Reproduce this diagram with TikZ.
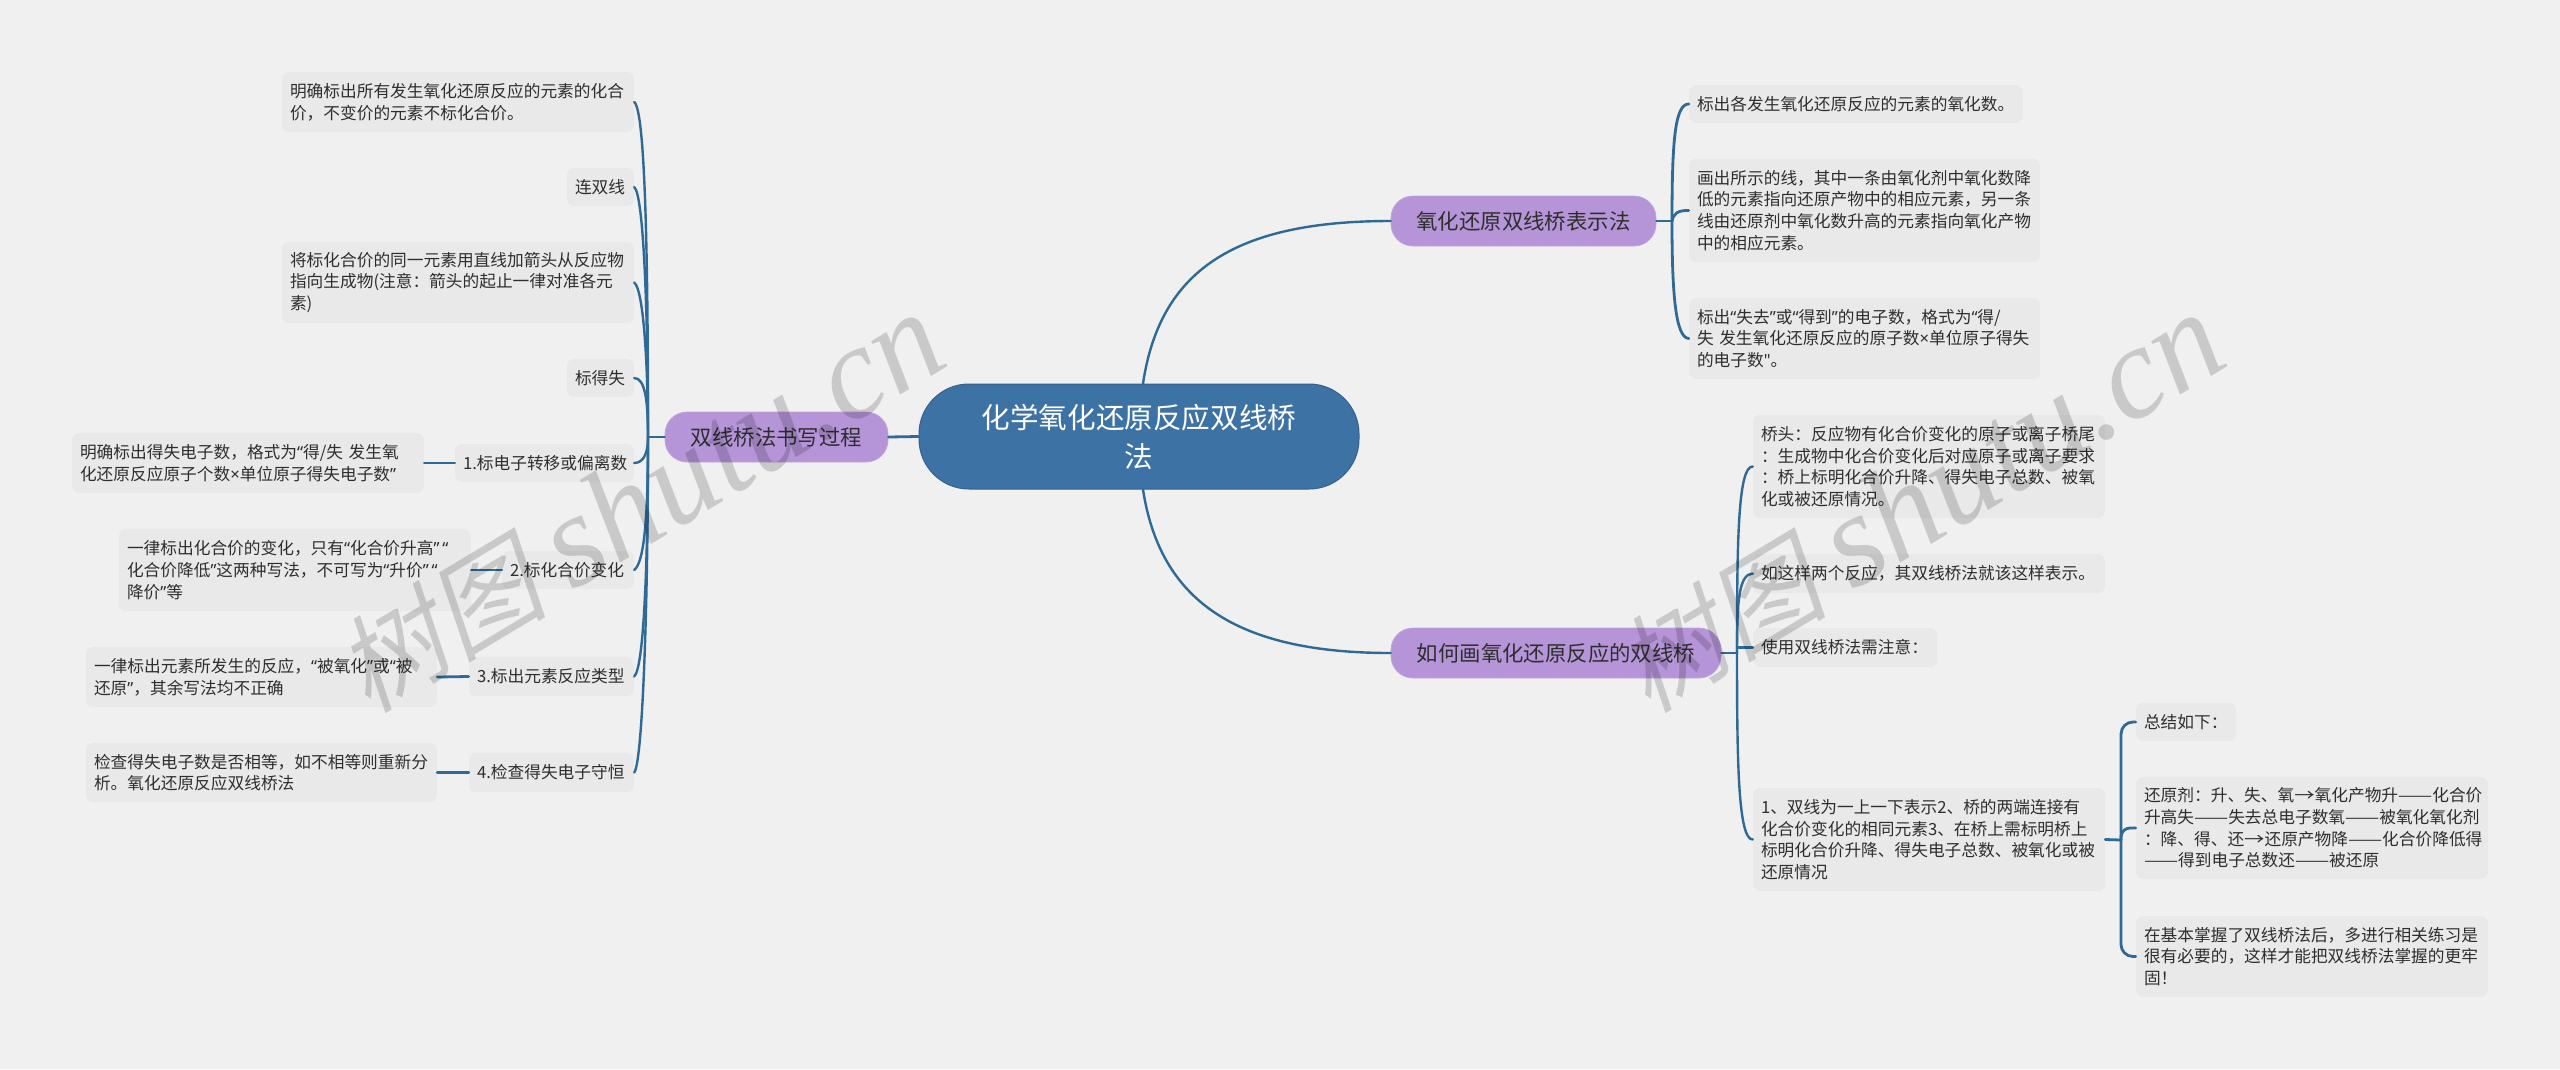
\documentclass[tikz,border=0pt]{standalone}
\usepackage{fontspec}
\setmainfont{Noto Sans CJK SC}
\newfontfamily\qf{Noto Sans}
\newfontfamily\dashf{Noto Sans CJK SC}[FakeStretch=1.22]
\newfontfamily\wmlat{Liberation Serif}
\newfontfamily\wmcjk{Noto Sans CJK SC}[FakeSlant=0.22]
\newcommand{\ql}{{\qf“}}
\newcommand{\qr}{{\qf”}}
\newcommand{\tms}{{\qf ×}}
\newcommand{\dsh}{{\dashf ——}}
\newcommand{\arw}{{\dashf →}}
\definecolor{bgc}{HTML}{F0F0F0}
\definecolor{leafc}{HTML}{E9E9E9}
\definecolor{linkc}{HTML}{2F6A96}
\definecolor{rootc}{HTML}{3D72A5}
\definecolor{purc}{HTML}{B694D8}
\definecolor{txtc}{HTML}{2E2E2E}
\tikzset{
  leaf/.style={fill=leafc,rounded corners=7,inner xsep=8,inner ysep=0,align=left,text=txtc,
    font=\fontsize{16.7}{21.7}\selectfont},
  branchbox/.style={fill=purc,draw=purc!85!white,line width=.8,rounded corners=22,inner sep=0,align=center,text=txtc,
    font=\fontsize{21.4}{30}\selectfont},
  rootbox/.style={fill=rootc,draw=rootc!85!black,line width=1,rounded corners=50,inner sep=0,align=center,text=white,
    font=\fontsize{28.6}{39}\selectfont},
  link/.style={draw=linkc,line width=2.4,line cap=round},
  thick link/.style={draw=linkc,line width=2.8,line cap=round},
  wm/.style={text=black,text opacity=.16,rotate=31,anchor=base,inner sep=0},
}
\newcommand{\leafbox}[6]{%
  \pgfmathsetmacro{\cxx}{(#2+#4)/2}\pgfmathsetmacro{\cyy}{(#3+#5)/2}%
  \pgfmathsetmacro{\ww}{#4-#2-16}\pgfmathsetmacro{\hh}{#5-#3}%
  \node[leaf,text width=\ww pt,minimum height=\hh pt] (#1) at (\cxx,\cyy) {#6};}
\newcommand{\solidbox}[7]{%
  \pgfmathsetmacro{\cxx}{(#3+#5)/2}\pgfmathsetmacro{\cyy}{(#4+#6)/2}%
  \pgfmathsetmacro{\ww}{#5-#3}\pgfmathsetmacro{\hh}{#6-#4}%
  \node[#2,minimum width=\ww pt,minimum height=\hh pt] (#1) at (\cxx,\cyy) {#7};}
\newcommand{\wmtext}{{\wmcjk\fontsize{106}{120}\selectfont 树图}\hspace{26pt}{\wmlat\itshape\fontsize{132}{134}\selectfont shutu.cn}}
\begin{document}
\begin{tikzpicture}[x=1pt,y=-1pt]
\useasboundingbox (0,0) rectangle (2560,1069);
\fill[bgc] (0,0) rectangle (2560,1069);
% root and branches
\solidbox{root}{rootbox}{919}{384}{1359}{489}{化学氧化还原反应双线桥\\法}
\solidbox{bl}{branchbox}{665}{412}{888}{462}{双线桥法书写过程}
\solidbox{bt}{branchbox}{1391}{196}{1656}{246}{氧化还原双线桥表示法}
\solidbox{bb}{branchbox}{1391}{628}{1721}{678}{如何画氧化还原反应的双线桥}
% left leaves
\leafbox{a1}{282}{72}{634}{132}{明确标出所有发生氧化还原反应的元素的化合\\价，不变价的元素不标化合价。}
\leafbox{a2}{567}{168}{634}{206}{连双线}
\leafbox{a3}{282}{242}{634}{323}{将标化合价的同一元素用直线加箭头从反应物\\指向生成物(注意：箭头的起止一律对准各元\\素)}
\leafbox{a4}{567}{359}{634}{397}{标得失}
\leafbox{a5}{455}{444}{634}{482}{1.标电子转移或偏离数}
\leafbox{a6}{502}{551}{634}{589}{2.标化合价变化}
\leafbox{a7}{469}{657}{634}{696}{3.标出元素反应类型}
\leafbox{a8}{469}{753}{634}{792}{4.检查得失电子守恒}
\leafbox{e5}{72}{433}{424}{493}{明确标出得失电子数，格式为\ql 得/失 发生氧\\化还原反应原子个数\tms 单位原子得失电子数\qr}
\leafbox{e6}{119}{529}{471}{611}{一律标出化合价的变化，只有\ql 化合价升高\qr\,\ql\\化合价降低\qr 这两种写法，不可写为\ql 升价\qr\,\ql\\降价\qr 等}
\leafbox{e7}{86}{647}{437}{707}{一律标出元素所发生的反应，\ql 被氧化\qr 或\ql 被\\还原\qr，其余写法均不正确}
\leafbox{e8}{86}{743}{437}{802}{检查得失电子数是否相等，如不相等则重新分\\析。氧化还原反应双线桥法}
% top right leaves
\leafbox{b1}{1689}{85}{2023}{123}{标出各发生氧化还原反应的元素的氧化数。}
\leafbox{b2}{1689}{159}{2040}{262}{画出所示的线，其中一条由氧化剂中氧化数降\\低的元素指向还原产物中的相应元素，另一条\\线由还原剂中氧化数升高的元素指向氧化产物\\中的相应元素。}
\leafbox{b3}{1689}{298}{2040}{379}{标出\ql 失去\qr 或\ql 得到\qr 的电子数，格式为\ql 得/\\失 发生氧化还原反应的原子数\tms 单位原子得失\\的电子数{\qf"}。}
% bottom right leaves
\leafbox{c1}{1753}{415}{2105}{518}{桥头：反应物有化合价变化的原子或离子桥尾\\：生成物中化合价变化后对应原子或离子要求\\：桥上标明化合价升降、得失电子总数、被氧\\化或被还原情况。}
\leafbox{c2}{1753}{554}{2105}{593}{如这样两个反应，其双线桥法就该这样表示。}
\leafbox{c3}{1753}{628}{1937}{667}{使用双线桥法需注意：}
\leafbox{c4}{1753}{788}{2105}{891}{1、双线为一上一下表示2、桥的两端连接有\\化合价变化的相同元素3、在桥上需标明桥上\\标明化合价升降、得失电子总数、被氧化或被\\还原情况}
\leafbox{d1}{2136}{703}{2236}{741}{总结如下：}
\leafbox{d2}{2136}{777}{2488}{879}{\mbox{还原剂：升、失、氧\arw 氧化产物升\dsh 化合价}\\\mbox{升高失\dsh 失去总电子数氧\dsh 被氧化氧化剂}\\\mbox{：降、得、还\arw 还原产物降\dsh 化合价降低得}\\\mbox{\dsh 得到电子总数还\dsh 被还原}}
\leafbox{d3}{2136}{916}{2488}{997}{在基本掌握了双线桥法后，多进行相关练习是\\很有必要的，这样才能把双线桥法掌握的更牢\\固！}
% junctions
\coordinate (jl) at (648,437);
\coordinate (jt) at (1672,221);
\coordinate (jb) at (1737,653);
\coordinate (jd) at (2121,840);
% root links
\draw[thick link] (root.west) -- (bl.east);
\draw[link] ([xshift=4]root.north) .. controls (1160,270) and (1235,221) .. (bt.west);
\draw[link] ([xshift=4]root.south) .. controls (1160,600) and (1235,653) .. (bb.west);
% left bundle
\draw[thick link] (bl.west) -- (jl);
\draw[link] (jl) .. controls (648,250) and (645,110) .. (a1.east);
\draw[link] (jl) .. controls (648,320) and (644,195) .. (a2.east);
\draw[link] (jl) .. controls (648,370) and (644,290) .. (a3.east);
\draw[link] (jl) .. controls (648,400) and (645,378) .. (a4.east);
\draw[link] (jl) .. controls (648,450) and (645,463) .. (a5.east);
\draw[link] (jl) .. controls (648,510) and (645,562) .. (a6.east);
\draw[link] (jl) .. controls (648,560) and (644,668) .. (a7.east);
\draw[link] (jl) .. controls (648,620) and (642,764) .. (a8.east);
\draw[thick link] (a5.west) -- (e5.east);
\draw[thick link] (a6.west) -- (e6.east);
\draw[thick link] (a7.west) -- (e7.east);
\draw[thick link] (a8.west) -- (e8.east);
% top right bundle
\draw[thick link] (bt.east) -- (jt);
\draw[thick link] (jt) .. controls (1672,140) and (1675,104) .. (b1.west);
\draw[thick link] (jt) .. controls (1673,214) and (1678,210) .. (b2.west);
\draw[thick link] (jt) .. controls (1672,290) and (1675,338) .. (b3.west);
% bottom right bundle
\draw[thick link] (bb.east) -- (jb);
\draw[link] (jb) .. controls (1737,540) and (1738,466) .. (c1.west);
\draw[link] (jb) .. controls (1737,600) and (1739,574) .. (c2.west);
\draw[link] (jb) -- (jb |- c3.west) -- (c3.west);
\draw[link] (jb) .. controls (1737,760) and (1738,840) .. (c4.west);
% last level
\draw[thick link] (c4.east) -- (jd);
\draw[thick link,rounded corners=12] (jd) -- (jd |- d1.west) -- (d1.west);
\draw[thick link,rounded corners=9] (jd) -- (jd |- d2.west) -- (d2.west);
\draw[thick link,rounded corners=12] (jd) -- (jd |- d3.west) -- (d3.west);
% watermarks
\node[wm] (wm1) at (661,539) {\wmtext};
\node[wm] (wm2) at (1941,539) {\wmtext};
\end{tikzpicture}
\end{document}
